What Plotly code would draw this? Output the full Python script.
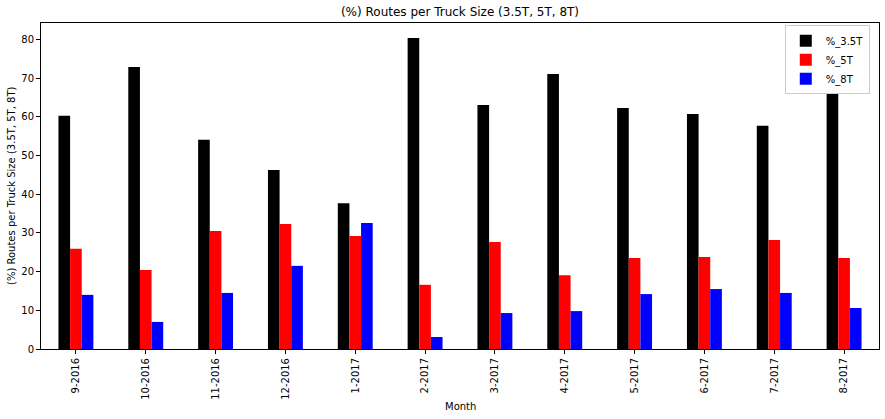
import plotly.graph_objects as go

months = ["9-2016", "10-2016", "11-2016", "12-2016", "1-2017", "2-2017",
          "3-2017", "4-2017", "5-2017", "6-2017", "7-2017", "8-2017"]
pct_35t = [60.3, 72.9, 54.1, 46.3, 37.7, 80.4, 63.1, 71.1, 62.3, 60.8, 57.7, 66.2]
pct_5t = [25.9, 20.4, 30.5, 32.3, 29.2, 16.6, 27.7, 19.1, 23.5, 23.8, 28.2, 23.5]
pct_8t = [14.0, 7.0, 14.5, 21.5, 32.6, 3.1, 9.3, 9.8, 14.2, 15.5, 14.5, 10.6]

series = [("%_3.5T", pct_35t, "black"), ("%_5T", pct_5t, "red"), ("%_8T", pct_8t, "blue")]

fig = go.Figure()
for name, vals, col in series:
    fig.add_trace(go.Bar(x=months, y=vals, name=name, marker=dict(color=col, line=dict(width=0))))

font = "DejaVu Sans, Arial, sans-serif"
W, H = 885, 419
L, R, T, B = 41, 6, 23, 70
fig.update_layout(
    width=W, height=H,
    margin=dict(l=L, r=R, t=T, b=B),
    paper_bgcolor="white", plot_bgcolor="white",
    barmode="group", bargap=0.5, bargroupgap=0,
    font=dict(family=font, size=10, color="black"),
    title=dict(text="(%) Routes per Truck Size (3.5T, 5T, 8T)", x=0.5, xref="paper", xanchor="center",
               y=1 - 12 / H, yanchor="middle", font=dict(size=12)),
    showlegend=True,
    legend=dict(x=0.989, y=0.993, xanchor="right", yanchor="top",
                bordercolor="#cccccc", borderwidth=1, bgcolor="rgba(255,255,255,0.8)",
                font=dict(size=10), tracegroupgap=0, itemwidth=30),
    xaxis=dict(range=[-0.5, 11.5], tickangle=-90, showline=True, mirror=True, automargin=False,
               linecolor="black", linewidth=1, ticks="outside", ticklen=4, tickcolor="black",
               showgrid=False),
    yaxis=dict(range=[0, 84.3], dtick=10, showline=True, mirror=True, automargin=False,
               linecolor="black", linewidth=1, ticks="outside", ticklen=4, tickcolor="black",
               showgrid=False, zeroline=False),
    annotations=[
        dict(text="Month", xref="paper", yref="paper", x=0.5, y=-(406 - (H - B)) / (H - T - B),
             xanchor="center", yanchor="middle", showarrow=False, font=dict(size=10)),
        dict(text="(%) Routes per Truck Size (3.5T, 5T, 8T)", xref="paper", yref="paper",
             x=-(L - 11) / (W - L - R), y=0.5, xanchor="center", yanchor="middle",
             textangle=-90, showarrow=False, font=dict(size=10)),
    ],
)

fig.write_html("out.html", config={"displayModeBar": False},
               post_script="document.body.style.margin='0';document.body.style.overflow='hidden';")
